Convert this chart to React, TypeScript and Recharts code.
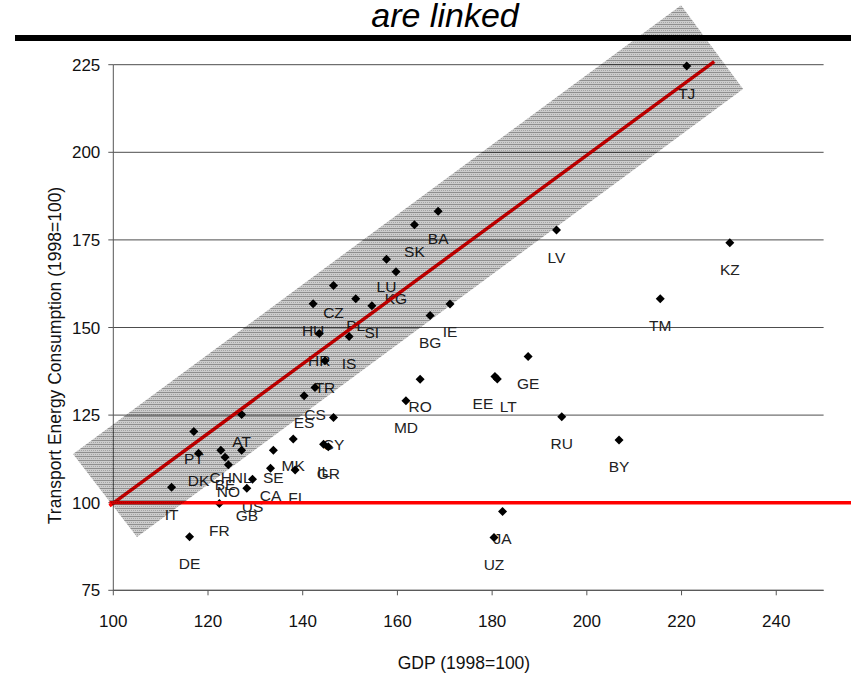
import React from 'react';
import {
  ScatterChart, Scatter, XAxis, YAxis, CartesianGrid,
  ReferenceArea, ReferenceLine, Label,
} from 'recharts';

// country codes with GDP and transport energy use, both 1998=100
const CODES = [
  'TJ', 'BA', 'SK', 'LU', 'KG', 'CZ', 'PL', 'SI', 'HU', 'HR', 'IS', 'TR',
  'CS', 'ES', 'AT', 'CY', 'BG', 'IE', 'RO', 'MD', 'EE', 'LT', 'GE', 'RU',
  'BY', 'JA', 'UZ', 'LV', 'KZ', 'TM', 'PT', 'MK', 'DK', 'CH', 'NL', 'BE',
  'NO', 'SE', 'IL', 'GR', 'US', 'GB', 'CA', 'FI', 'IT', 'FR', 'DE',
];
const GDP = [
  221.1, 168.6, 163.6, 157.7, 159.7, 146.5, 151.2, 154.6, 142.2, 143.5, 149.8, 144.7,
  142.6, 140.3, 127.1, 146.5, 166.9, 171.1, 164.8, 161.8, 180.6, 181.1, 187.6, 194.7,
  206.8, 182.2, 180.4, 193.6, 230.2, 215.5, 117.0, 138.0, 118.0, 122.7, 127.1, 123.6,
  124.3, 133.8, 144.4, 145.4, 129.4, 128.2, 133.2, 138.4, 112.3, 122.4, 116.1,
];
const TEC = [
  224.6, 183.2, 179.3, 169.5, 165.9, 162.0, 158.2, 156.2, 156.8, 148.3, 147.4, 140.5,
  132.9, 130.5, 125.2, 124.3, 153.4, 156.7, 135.2, 129.1, 136.0, 135.3, 141.7, 124.5,
  117.9, 97.5, 90.1, 177.8, 174.2, 158.2, 120.3, 118.2, 114.1, 115.0, 115.0, 113.0,
  110.8, 115.0, 116.7, 116.0, 106.7, 104.1, 109.8, 109.3, 104.4, 99.8, 90.3,
];

const X_TICKS = [100, 120, 140, 160, 180, 200, 220, 240];
const Y_TICKS = [75, 100, 125, 150, 175, 200, 225];

// shaded band corners (top, right, bottom, left) in data units
const BAND_X = [219.9, 233.0, 105.0, 91.5];
const BAND_Y = [242.0, 218.1, 90.2, 113.9];

const FIT_LINE = [{ x: 99.2, y: 99.1 }, { x: 226.9, y: 225.9 }];
const BASE_LINE = [{ x: 99.2, y: 100 }, { x: 255.8, y: 100 }];

// two labels were pulled apart by hand in the source
const LABEL_NUDGE: Record<string, number> = { EE: -12, LT: 11 };

const FONT = "'Liberation Sans', Arial, sans-serif";

const points = CODES.map((code, i) => ({ code, gdp: GDP[i], tec: TEC[i] }));

function Diamond(props: any) {
  const { cx, cy, payload } = props;
  if (cx == null || cy == null) return null;
  const r = 4.5;
  const dx = LABEL_NUDGE[payload.code] ?? 0;
  return (
    <g>
      <polygon
        points={`${cx},${cy - r} ${cx + r},${cy} ${cx},${cy + r} ${cx - r},${cy}`}
        fill="#000"
      />
      <text
        x={cx + dx}
        y={cy + 27}
        textAnchor="middle"
        dominantBaseline="central"
        fontSize={15.5}
        fontFamily={FONT}
        fill="#222"
      >
        {payload.code}
      </text>
    </g>
  );
}

function BandShape(props: any) {
  const { x, y, width, height } = props;
  const x0 = Math.min(...BAND_X);
  const x1 = Math.max(...BAND_X);
  const y0 = Math.min(...BAND_Y);
  const y1 = Math.max(...BAND_Y);
  const pts = BAND_X.map((bx, i) => {
    const px = x + ((bx - x0) / (x1 - x0)) * width;
    const py = y + ((y1 - BAND_Y[i]) / (y1 - y0)) * height;
    return `${px},${py}`;
  }).join(' ');
  return (
    <g>
      <defs>
        <pattern id="bandDots" width={4} height={4} patternUnits="userSpaceOnUse">
          <rect width={4} height={4} fill="#000" fillOpacity={0.2} />
          <rect width={4} height={1} fill="#000" fillOpacity={0.3} />
          <rect x={1} y={2} width={1} height={1} fill="#000" fillOpacity={0.2} />
          <rect x={3} y={2} width={1} height={1} fill="#000" fillOpacity={0.2} />
        </pattern>
      </defs>
      <polygon points={pts} fill="url(#bandDots)" />
    </g>
  );
}

const XTitle = ({ viewBox }: any) => {
  const vb = viewBox ?? { x: 113.3, y: 590.3, width: 710.3, height: 30 };
  return (
    <text x={vb.x + vb.width / 2 - 4.5} y={vb.y + 79} textAnchor="middle"
      fontSize={17.5} fontFamily={FONT} fill="#111">
      GDP (1998=100)
    </text>
  );
};

const YTitle = ({ viewBox }: any) => {
  const vb = viewBox ?? { x: 53.3, y: 64.7, width: 60, height: 525.6 };
  const cx = vb.x + 2;
  const cy = vb.y + vb.height / 2 + 28;
  return (
    <text x={cx} y={cy} textAnchor="middle" dominantBaseline="central"
      transform={`rotate(-90 ${cx} ${cy})`} fontSize={17.5} fontFamily={FONT} fill="#111">
      Transport Energy Consumption (1998=100)
    </text>
  );
};

export default function App() {
  const tick = { fill: '#111', fontSize: 17, fontFamily: FONT };
  return (
    <div style={{ position: 'absolute', left: 0, top: 0, width: 851, height: 673, background: '#fff' }}>
      <svg width={851} height={673} style={{ position: 'absolute', left: 0, top: 0 }}>
        <text x={445} y={27} textAnchor="middle" fontSize={34} fontStyle="italic"
          fontFamily={FONT} fill="#000">
          are linked
        </text>
        <rect x={15} y={35} width={836} height={6} fill="#000" />
      </svg>
      <div style={{ position: 'absolute', left: 0, top: 0 }}>
        <ScatterChart width={851} height={673}
          margin={{ top: 64.7, right: 27.4, bottom: 52.7, left: 53.3 }}>
          <CartesianGrid vertical={false} stroke="#4d4d4d" />
          <XAxis type="number" dataKey="gdp" domain={[100, 250]} ticks={X_TICKS}
            height={30} tickSize={5} tickMargin={20} stroke="#555" tick={tick}>
            <Label content={<XTitle />} />
          </XAxis>
          <YAxis type="number" dataKey="tec" domain={[75, 225]} ticks={Y_TICKS}
            width={60} tickSize={5} tickMargin={8} stroke="#555" tick={tick}>
            <Label content={<YTitle />} />
          </YAxis>
          <Scatter data={points} shape={<Diamond />} isAnimationActive={false} />
          <ReferenceLine segment={BASE_LINE} stroke="#ff0000" strokeWidth={3.5}
            ifOverflow="visible" zIndex={650} />
          <ReferenceLine segment={FIT_LINE} stroke="#ff0000" strokeWidth={3.5}
            ifOverflow="visible" zIndex={650} />
          <ReferenceArea x1={Math.min(...BAND_X)} x2={Math.max(...BAND_X)}
            y1={Math.min(...BAND_Y)} y2={Math.max(...BAND_Y)}
            ifOverflow="visible" shape={BandShape} zIndex={1500} />
        </ScatterChart>
      </div>
    </div>
  );
}
